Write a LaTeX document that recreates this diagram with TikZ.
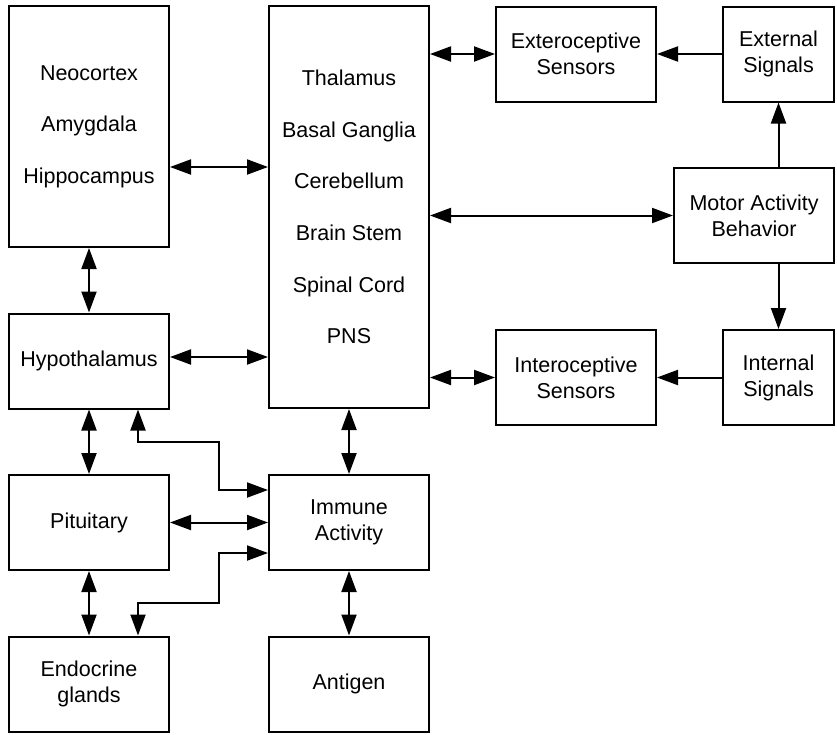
\documentclass[tikz,border=0pt]{standalone}
\usepackage{fontspec}
\setmainfont{Liberation Sans}
\usetikzlibrary{arrows.meta}
\begin{document}
\begin{tikzpicture}[x=1pt,y=-1pt,
        box/.style={draw,line width=2pt,align=center,inner sep=0pt,
            minimum width=160pt,minimum height=95pt,
            font=\fontsize{21.5}{26}\selectfont},
        listbox/.style={box,font=\fontsize{21.5}{51.6}\selectfont},
        link/.style={line width=2pt,-{Triangle[length=21pt,width=15pt]}},
        both/.style={line width=2pt,
            {Triangle[length=21pt,width=15pt]}-{Triangle[length=21pt,width=15pt]}}]
\useasboundingbox (0,0) rectangle (837,734);

% left column
\node[listbox,minimum height=241pt] (cortex) at (89,126.5) {Neocortex\\Amygdala\\Hippocampus};
\node[box] (hypo) at (89,361)   {Hypothalamus};
\node[box] (pit)  at (89,522.5) {Pituitary};
\node[box] (endo) at (89,684)   {Endocrine\\glands};

% middle column
\node[listbox,minimum height=402pt] (core) at (349,207)
    {Thalamus\\Basal Ganglia\\Cerebellum\\Brain Stem\\Spinal Cord\\PNS};
\node[box] (immune)  at (349,522.5) {Immune\\Activity};
\node[box] (antigen) at (349,684)   {Antigen};

% right side
\node[box] (extero) at (576,54)    {Exteroceptive\\Sensors};
\node[box,minimum width=111pt] (extsig) at (778.5,54) {External\\Signals};
\node[box] (motor)  at (754,215.5) {Motor Activity\\Behavior};
\node[box] (intero) at (576,377.5) {Interoceptive\\Sensors};
\node[box,minimum width=111pt] (intsig) at (778.5,377.5) {Internal\\Signals};

\draw[both] (cortex.east |- 0,167) -- (core.west |- 0,167);
\draw[both] (cortex) -- (hypo);
\draw[both] (hypo.east |- 0,357) -- (core.west |- 0,357);
\draw[both] (hypo) -- (pit);
\draw[both] (pit) -- (endo);
\draw[both] (pit) -- (immune);
\draw[both] (immune.west |- 0,490) -- (219,490) -- (219,442) -- (138,442) -- (hypo.south -| 138,0);
\draw[both] (immune.west |- 0,553) -- (219,553) -- (219,603) -- (138,603) -- (endo.north -| 138,0);
\draw[both] (core) -- (immune);
\draw[both] (immune) -- (antigen);

\draw[both] (core.east |- extero.west) -- (extero.west);
\draw[both] (core.east |- motor.west) -- (motor.west);
\draw[both] (core.east |- intero.west) -- (intero.west);
\draw[link] (extsig) -- (extero);
\draw[link] (intsig) -- (intero);
\draw[link] (motor.north -| extsig.south) -- (extsig.south);
\draw[link] (motor.south -| intsig.north) -- (intsig.north);
\end{tikzpicture}
\end{document}
